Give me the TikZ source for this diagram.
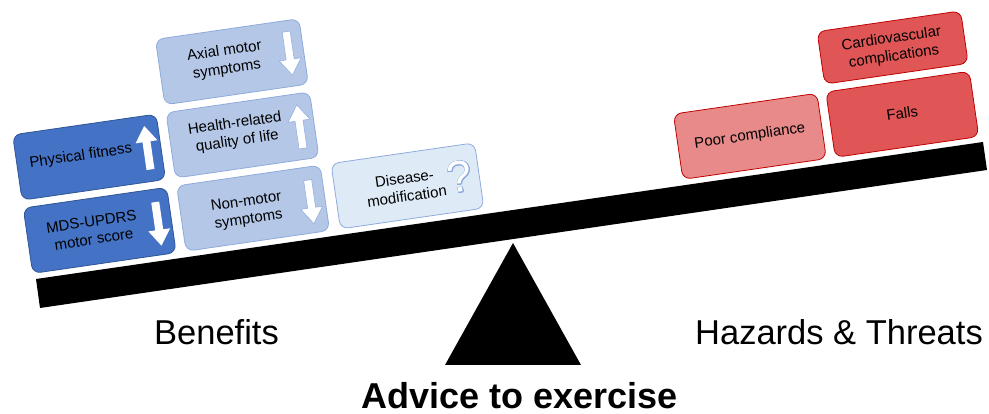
\documentclass[tikz,border=0pt]{standalone}
\usepackage{fontspec}
\setmainfont{Liberation Sans}
\usepackage{contour}
\contourlength{0.8pt}
\definecolor{dkblue}{HTML}{4472C4}
\definecolor{dkblueb}{HTML}{2F5597}
\definecolor{ltblue}{HTML}{B4C7E7}
\definecolor{ltblueb}{HTML}{8FAADC}
\definecolor{paleblue}{HTML}{DEEBF7}
\definecolor{redf}{HTML}{E05656}
\definecolor{redl}{HTML}{E98A8A}
\definecolor{redb}{HTML}{C00000}
\begin{document}
\begin{tikzpicture}[x=1pt,y=1pt,
  box/.style={draw, line width=0.8pt, rounded corners=8pt, minimum width=145pt, minimum height=66pt, inner sep=0pt},
  bdark/.style={box, fill=dkblue, draw=dkblueb},
  blight/.style={box, fill=ltblue, draw=ltblueb},
  bpale/.style={box, fill=paleblue, draw=ltblueb},
  bred/.style={box, fill=redf, draw=redb},
  bredl/.style={box, fill=redl, draw=redb},
  lbl/.style={font=\fontsize{15}{18}\selectfont, align=center, inner sep=0pt},
  big/.style={font=\fontsize{34.5}{40}\selectfont, inner sep=0pt, anchor=base},
  uparr/.pic={\path[fill=white, line width=0.5pt, pic actions] (-4,-22) -- (4,-22) -- (4,6) -- (11,6) -- (0,22) -- (-11,6) -- (-4,6) -- cycle;},
  downarr/.pic={\path[fill=white, line width=0.5pt, pic actions] (-4,22) -- (4,22) -- (4,-6) -- (11,-6) -- (0,-22) -- (-11,-6) -- (-4,-6) -- cycle;}
]
\useasboundingbox (0,0) rectangle (989,414);
% beam and fulcrum
\fill[black] (36,135) -- (983,272) -- (987,244) -- (40,106) -- cycle;
\fill[black] (445,49) -- (513,171) -- (581,49) -- cycle;
\begin{scope}[shift={(36,135)}, rotate=8.23, transform shape]
  % benefits
  \node[bdark] (mds) at (70,39) {};
  \node[bdark] (pf) at (70,113) {};
  \node[blight] (nm) at (225,39) {};
  \node[blight] (hr) at (225,113) {};
  \node[blight] (ax) at (225,187) {};
  \node[bpale] (dm) at (381,39) {};
  % hazards
  \node[bredl] (pc) at (727,39) {};
  \node[bred] (fa) at (881,39) {};
  \node[bred, minimum height=53pt] (cv) at (881,106.5) {};
  % texts
  \node[lbl] (mdst) at (63,40) {MDS-UPDRS\\motor score};
  \node[lbl] (pft) at (62,115) {Physical fitness};
  \node[lbl] (nmt) at (219,37) {Non-motor\\symptoms};
  \node[lbl] (hrt) at (219,116) {Health-related\\quality of life};
  \node[lbl] (axt) at (219,189) {Axial motor\\symptoms};
  \node[lbl] (dmt) at (379,38) {Disease-\\modification};
  \node[inner sep=0pt, font=\fontsize{44}{44}\selectfont] (q) at (434,40) {\contour{ltblueb}{\textcolor{white}{?}}};
  \node[lbl] (pct) at (727,39) {Poor compliance};
  \node[lbl] (fat) at (881,40) {Falls};
  \node[lbl] (cvt) at (881,106) {Cardiovascular\\complications};
  % arrows
  \pic at (129,37) {downarr};
  \pic at (129,114) {uparr};
  \pic[draw=ltblueb] at (283,37) {downarr};
  \pic[draw=ltblueb] at (283,113) {uparr};
  \pic[draw=ltblueb] at (283,187) {downarr};
\end{scope}
\node[big] (ben) at (216.5,69) {Benefits};
\node[big] (haz) at (839,69) {Hazards \& Threats};
\node[big, font=\fontsize{36}{40}\selectfont\bfseries] (adv) at (519.5,5) {Advice to exercise};
\end{tikzpicture}
\end{document}
